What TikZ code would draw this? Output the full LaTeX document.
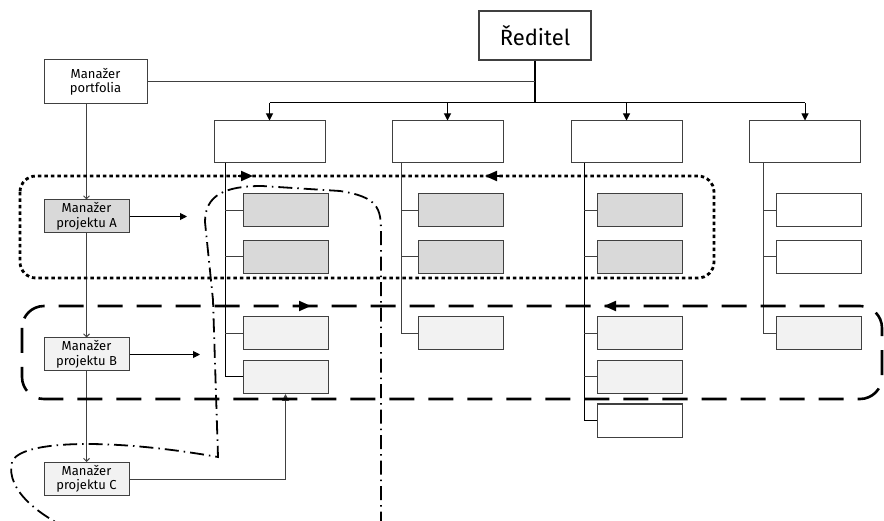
\documentclass[tikz,border=0pt]{standalone}
\usepackage{fontspec}
\setmainfont{Fira Sans}
\usetikzlibrary{arrows.meta}
\begin{document}
\begin{tikzpicture}[x=1pt, y=-1pt,
	box/.style={draw=black!75, line width=1pt, inner sep=0pt, minimum width=85pt, minimum height=33pt, align=center, font=\fontsize{13}{14.5}\selectfont},
	dept/.style={box, fill=white, minimum width=111pt, minimum height=42pt},
	dark/.style={box, fill=black!15},
	light/.style={box, fill=black!5},
	blank/.style={box, fill=white},
	link/.style={draw=black!75, line width=1pt},
	tip/.style={-{Triangle[length=7pt,width=7pt]}},
	barb/.style={-{Straight Barb[length=3pt,width=6pt]}},
	bigtip/.style={-{Triangle[length=12pt,width=10pt]}, line width=2pt},
	dotframe/.style={line width=2.8pt, dash pattern=on 3.5pt off 3pt, rounded corners=16pt},
	dashframe/.style={line width=2.6pt, dash pattern=on 25pt off 14pt, rounded corners=22pt},
	dashdot/.style={line width=1.8pt, dash pattern=on 14pt off 5pt on 1.5pt off 5pt}]
	\useasboundingbox (0,0) rectangle (884,521);
	\clip (0,0) rectangle (884,521);
	
	% top of the tree
	\node[box, line width=1.2pt, minimum width=112pt, minimum height=49pt, font=\fontsize{22}{24}\selectfont] (red) at (535,35.5){Ředitel};
	\node[box, minimum width=103pt, minimum height=44pt] (port) at (95.5,82){Manažer\\portfolia};
	\coordinate (bus) at (535,103);
	
	\node[dept] (d1) at (269.5,142){};
	\node[dept] (d2) at (447.5,142){};
	\node[dept] (d3) at (626.5,142){};
	\node[dept] (d4) at (805,142){};
	
	\draw[link, black, line width=1.4pt] (red.south) -- (bus);
	\draw[link] (port.east) -- (port.east -| bus);
	\draw[link, black] (d1.north |- bus) -- (d4.north |- bus);
	\draw[link, black, tip] (d1.north |- bus) -- (d1.north);
	\draw[link, black, tip] (d2.north |- bus) -- (d2.north);
	\draw[link, black, tip] (d3.north |- bus) -- (d3.north);
	\draw[link, black, tip] (d4.north |- bus) -- (d4.north);
	
	% units under each department
	\node[dark] (c11) at (285.5,210.5){};
	\node[dark] (c12) at (285.5,257){};
	\node[light] (c13) at (285.5,333.5){};
	\node[light] (c14) at (285.5,377){};
	
	\node[dark] (c21) at (460.5,210.5){};
	\node[dark] (c22) at (460.5,257){};
	\node[light] (c23) at (460.5,333.5){};
	
	\node[dark] (c31) at (639.5,210.5){};
	\node[dark] (c32) at (639.5,257){};
	\node[light] (c33) at (639.5,333.5){};
	\node[light] (c34) at (639.5,377){};
	\node[blank] (c35) at (639.5,420.5){};
	
	\node[blank] (c41) at (818.5,210.5){};
	\node[blank] (c42) at (818.5,257){};
	\node[light] (c43) at (818.5,333.5){};
	
	\coordinate (v1) at (225,163);
	\coordinate (v2) at (401,163);
	\coordinate (v3) at (584,163);
	\coordinate (v4) at (763,163);
	
	\draw[link, black] (v1) |- (c14.west);
	\draw[link] (c11.west) -- (c11.west -| v1);
	\draw[link] (c12.west) -- (c12.west -| v1);
	\draw[link] (c13.west) -- (c13.west -| v1);
	
	\draw[link] (v2) |- (c23.west);
	\draw[link] (c21.west) -- (c21.west -| v2);
	\draw[link] (c22.west) -- (c22.west -| v2);
	
	\draw[link, black] (v3) |- (c35.west);
	\draw[link] (c31.west) -- (c31.west -| v3);
	\draw[link] (c32.west) -- (c32.west -| v3);
	\draw[link] (c33.west) -- (c33.west -| v3);
	\draw[link] (c34.west) -- (c34.west -| v3);
	
	\draw[link] (v4) |- (c43.west);
	\draw[link] (c41.west) -- (c41.west -| v4);
	\draw[link] (c42.west) -- (c42.west -| v4);
	
	% project managers
	\node[dark] (pA) at (86.5,216.5){Manažer\\projektu A};
	\node[light] (pB) at (86.5,354.5){Manažer\\projektu B};
	\node[light] (pC) at (86.5,479){Manažer\\projektu C};
	\coordinate (aA) at (187,216.5);
	\coordinate (aB) at (200,354.5);
	
	\draw[link, barb] (pA.north |- port.south) -- (pA.north);
	\draw[link, barb] (pA.south) -- (pB.north);
	\draw[link, barb] (pB.south) -- (pC.north);
	\draw[link, black, tip] (pA.east) -- (aA);
	\draw[link, black, tip] (pB.east) -- (aB);
	\draw[link, tip] (pC.east) -| (c14.south);
	
	% project frames
	\draw[dotframe] (20,176) rectangle (714,278);
	\draw[bigtip] (238,176) -- (253,176);
	\draw[bigtip] (500,176) -- (485,176);
	
	\draw[dashframe] (22,306) rectangle (882,399);
	\draw[bigtip] (295,306) -- (311,306);
	\draw[bigtip] (620,306) -- (604,306);
	
	\draw[dashdot] (95,540) .. controls (40,520) and (5,490) .. (12,462)
		.. controls (20,440) and (110,438) .. (218,457)
		-- (213,300) -- (205,222)
		.. controls (205,195) and (225,186) .. (262,186)
		-- (340,191) .. controls (378,197) and (381,208) .. (381,232)
		-- (381,540);
\end{tikzpicture}
\end{document}
